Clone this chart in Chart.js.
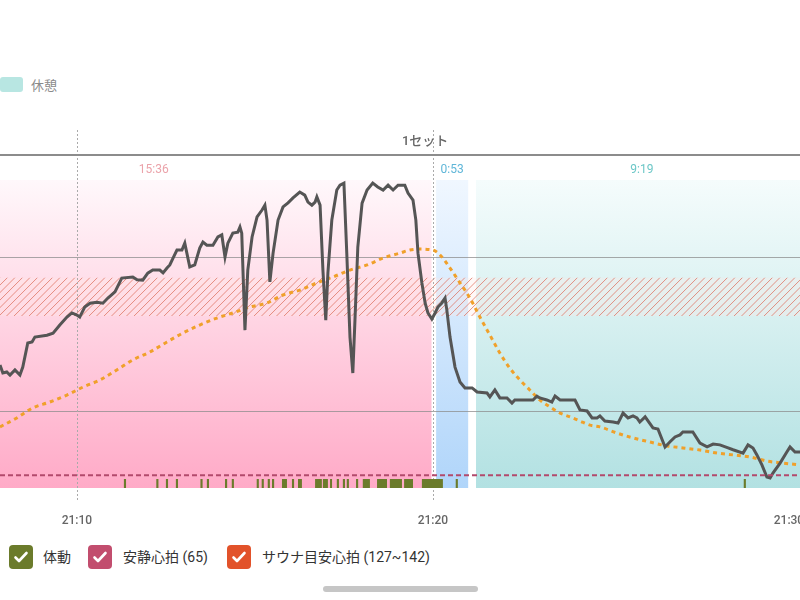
<!DOCTYPE html>
<html>
<head>
<meta charset="utf-8">
<script src="https://cdn.jsdelivr.net/npm/chart.js@4.4.1/dist/chart.umd.min.js"></script>
<style>
  body { margin:0; width:800px; height:600px; overflow:hidden; background:#fff;
         font-family: Roboto, "Noto Sans CJK JP", sans-serif; position:relative; }
  #wrap { position:absolute; left:0; top:0; width:800px; height:528px; }
  .topleg { position:absolute; left:0; top:77px; width:23px; height:15px; border-radius:3px; background:#b8e6e2; }
  .toplegtxt { position:absolute; left:31px; top:75px; font-size:13px; color:#8a8a8a; }
  .chk { position:absolute; top:545px; width:24px; height:24px; border-radius:4px; }
  .chk svg { display:block; }
  .lbl { position:absolute; top:547px; font-size:14px; color:#333; line-height:20px; }
  .scroll { position:absolute; left:323px; top:586px; width:155px; height:6px; border-radius:3px; background:#c6c6c6; }
</style>
</head>
<body>
<div class="topleg"></div><div class="toplegtxt">休憩</div>
<div id="wrap"><canvas id="c"></canvas></div>

<div class="chk" style="left:9px;background:#6b7b2b"><svg width="24" height="24"><path d="M6.5 12.5l3.5 3.5 7.5-8" stroke="#fff" stroke-width="2.6" fill="none" stroke-linecap="round" stroke-linejoin="round"/></svg></div>
<div class="lbl" style="left:43px">体動</div>
<div class="chk" style="left:88px;background:#c24d6e"><svg width="24" height="24"><path d="M6.5 12.5l3.5 3.5 7.5-8" stroke="#fff" stroke-width="2.6" fill="none" stroke-linecap="round" stroke-linejoin="round"/></svg></div>
<div class="lbl" style="left:123px">安静心拍 (65)</div>
<div class="chk" style="left:227px;background:#e2522a"><svg width="24" height="24"><path d="M6.5 12.5l3.5 3.5 7.5-8" stroke="#fff" stroke-width="2.6" fill="none" stroke-linecap="round" stroke-linejoin="round"/></svg></div>
<div class="lbl" style="left:262px">サウナ目安心拍 (127~142)</div>
<div class="scroll"></div>

<script>
// minutes after 21:00
const X_MIN = 7.84, X_MAX = 30.31
const X_TICKS = [10, 20, 30]
const Y_GRID = [90, 150]
const REST_HR = 65
const TARGET_LOW = 127, TARGET_HIGH = 142
const MOVE_LEVEL = 63.5

const PHASE_LABELS = ['15:36', '0:53', '9:19']
const PHASE_START  = [4.36, 20.09, 21.21]
const PHASE_END    = [19.96, 20.99, 30.53]
const SET_LABEL = '1セット'
const SET_LABEL_AT = 19.78

const HR_T = [
  7.84,7.92,8.03,8.12,8.26,8.40,8.48,8.62,8.74,8.82,
  9.16,9.33,9.52,9.72,9.86,10.00,10.08,10.22,10.37,10.56,
  10.73,10.87,11.07,11.26,11.57,11.69,11.85,11.99,12.13,12.33,
  12.42,12.53,12.61,12.70,12.81,12.95,13.03,13.17,13.31,13.45,
  13.54,13.65,13.82,13.96,14.07,14.16,14.24,14.38,14.52,14.58,
  14.63,14.72,14.80,14.92,15.06,15.20,15.28,15.34,15.42,15.51,
  15.65,15.79,15.93,16.07,16.26,16.40,16.49,16.60,16.69,16.74,
  16.83,16.91,16.99,17.05,17.16,17.30,17.39,17.50,17.58,17.67,
  17.75,17.81,17.89,18.01,18.15,18.31,18.45,18.60,18.74,18.88,
  19.02,19.21,19.30,19.44,19.52,19.58,19.69,19.78,19.86,19.97,
  20.06,20.14,20.25,20.34,20.39,20.48,20.62,20.76,20.90,21.10,
  21.24,21.52,21.60,21.74,21.88,22.08,22.22,22.30,22.81,22.92,
  23.00,23.20,23.34,23.43,23.57,23.99,24.13,24.33,24.47,24.61,
  24.69,24.83,25.06,25.20,25.34,25.48,25.62,25.73,25.81,25.96,
  26.18,26.32,26.52,26.66,26.80,26.94,27.02,27.30,27.50,27.70,
  27.87,28.06,28.29,28.43,28.71,28.85,28.99,29.10,29.24,29.38,
  29.47,29.55,29.75,29.94,30.03,30.17,30.31
]
const HR_V = [
  107.9,104.8,105.2,104.0,106.0,104.0,107.1,116.5,116.9,118.8,
  119.5,120.3,123.5,126.6,128.2,127.4,126.6,130.5,132.0,132.4,
  132.0,134.0,136.4,141.8,142.2,141.1,141.0,143.7,144.9,144.9,
  143.8,145.7,146.9,149.6,152.7,152.7,155.4,146.1,146.9,153.5,
  155.8,154.6,154.6,157.8,158.6,150.0,155.4,159.3,159.7,161.7,
  159.3,121.5,144.9,157.8,165.6,168.3,170.2,164.4,140.3,151.5,
  164.4,169.5,171.1,173.0,175.3,174.1,171.4,170.2,171.4,173.4,
  170.2,144.9,125.4,143.8,164.4,176.1,178.0,178.8,151.5,118.8,
  104.8,125.4,153.9,171.0,176.1,178.8,177.3,176.1,178.0,176.1,
  178.0,178.0,174.9,172.2,164.4,151.5,139.9,132.1,128.2,125.8,
  128.2,130.5,132.1,134.0,129.4,118.8,107.1,101.3,99.0,99.0,
  97.4,97.0,95.5,98.2,95.1,95.1,93.1,94.3,94.3,95.8,
  95.1,94.3,93.5,95.8,94.3,94.3,90.4,90.0,87.3,87.3,
  88.1,86.1,85.7,85.3,89.2,87.3,88.1,87.3,85.7,87.7,
  83.4,83.0,76.0,78.0,79.9,80.7,81.8,81.8,77.5,76.0,
  77.1,76.8,75.6,74.9,73.6,76.8,75.6,72.9,69.0,64.3,
  63.9,65.8,69.7,74.0,76.0,74.0,74.0
]

const PRED_T = [
  7.84,8.31,8.76,9.24,9.72,10.17,10.65,11.12,11.57,12.05,
  12.53,12.98,13.45,13.93,14.38,14.86,15.34,15.79,16.26,16.74,
  17.19,17.67,18.15,18.60,19.07,19.35,19.63,20.00,20.20,20.48,
  20.76,21.04,21.32,21.60,21.88,22.16,22.44,22.72,23.00,23.29,
  23.57,23.85,24.13,24.41,24.69,25.17,25.62,26.10,26.57,27.02,
  27.50,27.98,28.43,28.91,29.38,29.83,30.31
]
const PRED_V = [
  83.8,87.3,91.2,93.5,96.2,99.3,102.1,106.0,109.9,113.0,
  116.9,120.4,123.5,126.2,128.2,130.5,132.1,135.2,137.1,139.9,
  142.2,144.9,146.9,149.6,151.5,152.7,153.1,152.7,150.8,145.7,
  139.9,134.0,126.6,119.6,112.6,106.7,102.1,98.2,94.3,91.6,
  89.2,87.7,86.1,84.5,83.8,81.4,79.5,77.9,76.4,75.6,
  74.8,73.6,72.9,72.1,70.5,69.7,69.0
]

// body movement intervals (minutes)
const MOVE_START = [11.32,12.23,12.50,12.78,13.47,13.65,14.16,14.35,15.05,15.19,15.36,15.48,15.76,16.04,16.21,16.69,16.91,17.11,17.30,17.47,17.58,17.84,18.03,18.43,18.79,19.19,19.69,20.64,28.73]
const MOVE_END   = [11.38,12.29,12.56,12.84,13.53,13.71,14.22,14.41,15.11,15.25,15.42,15.54,15.90,16.10,16.32,16.88,17.05,17.16,17.36,17.53,17.64,17.90,18.23,18.71,19.13,19.44,20.28,20.70,28.79]

const PHASE_TOP    = ['rgb(255,248,251)', 'rgb(240,247,255)', 'rgb(245,252,252)']
const PHASE_BOTTOM = ['rgb(255,170,199)', 'rgb(176,213,250)', 'rgb(178,225,226)']
const PHASE_TEXT   = ['#eba3aa', '#5fb6d8', '#6cc7c7']

const zip = (t, v) => t.map((x, i) => ({ x, y: v[i] }))

const decor = {
  id: 'decor',
  beforeDraw(chart) {
    const { ctx, chartArea: a, scales: { x, y } } = chart
    ctx.save()
    PHASE_START.forEach((s, i) => {
      const x1 = Math.max(x.getPixelForValue(s), a.left)
      const x2 = Math.min(x.getPixelForValue(PHASE_END[i]), a.right)
      const g = ctx.createLinearGradient(0, a.top, 0, a.bottom)
      g.addColorStop(0, PHASE_TOP[i]); g.addColorStop(1, PHASE_BOTTOM[i])
      ctx.fillStyle = g
      ctx.fillRect(x1, a.top, x2 - x1, a.bottom - a.top)
    })
    const yt = y.getPixelForValue(TARGET_HIGH), yb = y.getPixelForValue(TARGET_LOW)
    ctx.beginPath(); ctx.rect(a.left, yt, a.right - a.left, yb - yt); ctx.clip()
    ctx.fillStyle = 'rgba(255,232,228,0.3)'
    ctx.fillRect(a.left, yt, a.right - a.left, yb - yt)
    ctx.strokeStyle = 'rgba(220,105,85,0.7)'; ctx.lineWidth = 1
    const h = yb - yt
    ctx.beginPath()
    for (let px = a.left - h; px < a.right; px += 7.5) { ctx.moveTo(px, yb); ctx.lineTo(px + h, yt) }
    ctx.stroke()
    ctx.restore()
  },
  beforeDatasetsDraw(chart) {
    const { ctx, chartArea: a, scales: { x, y } } = chart
    ctx.save()
    ctx.strokeStyle = '#aaa'; ctx.lineWidth = 1; ctx.setLineDash([2, 2])
    X_TICKS.forEach(t => {
      const px = Math.round(x.getPixelForValue(t)) + 0.5
      if (px > a.right - 15) return
      ctx.beginPath(); ctx.moveTo(px, 130); ctx.lineTo(px, a.bottom + 12); ctx.stroke()
    })
    ctx.setLineDash([])
    ctx.fillStyle = '#6b7b2b'
    const top = y.getPixelForValue(MOVE_LEVEL)
    MOVE_START.forEach((s, i) => {
      const x1 = x.getPixelForValue(s), x2 = x.getPixelForValue(MOVE_END[i])
      ctx.fillRect(x1, top, Math.max(2, x2 - x1), a.bottom - top)
    })
    ctx.restore()
  },
  afterDraw(chart) {
    const { ctx, chartArea: a, scales: { x } } = chart
    ctx.save()
    ctx.strokeStyle = '#8c8c8c'; ctx.lineWidth = 2
    ctx.beginPath(); ctx.moveTo(0, a.top - 25); ctx.lineTo(chart.width, a.top - 25); ctx.stroke()
    ctx.textAlign = 'center'; ctx.textBaseline = 'middle'
    ctx.font = '500 13px Roboto, "Noto Sans CJK JP"'
    ctx.fillStyle = '#666'
    ctx.fillText(SET_LABEL, x.getPixelForValue(SET_LABEL_AT), a.top - 38)
    ctx.font = '12px Roboto, "Noto Sans CJK JP"'
    PHASE_LABELS.forEach((l, i) => {
      ctx.fillStyle = PHASE_TEXT[i]
      ctx.fillText(l, x.getPixelForValue((PHASE_START[i] + PHASE_END[i]) / 2), a.top - 10)
    })
    ctx.restore()
  }
}

new Chart(document.getElementById('c'), {
  type: 'line',
  data: { datasets: [
    { label: '安静心拍', data: [{ x: X_MIN, y: REST_HR }, { x: X_MAX, y: REST_HR }],
      borderColor: '#b24a6c', borderWidth: 2, borderDash: [5, 3], pointRadius: 0 },
    { label: '心拍', data: zip(HR_T, HR_V),
      borderColor: '#555', borderWidth: 3, pointRadius: 0, tension: 0 },
    { label: '予測', data: zip(PRED_T, PRED_V),
      borderColor: '#f0a02a', borderWidth: 3, borderDash: [4, 4], pointRadius: 0,
      cubicInterpolationMode: 'monotone' },
  ]},
  options: {
    responsive: true, maintainAspectRatio: false, animation: false,
    layout: { padding: { top: 180, left: 0, right: 0, bottom: 0 } },
    plugins: { legend: { display: false }, tooltip: { enabled: false } },
    scales: {
      x: { type: 'linear', min: X_MIN, max: X_MAX,
           afterBuildTicks: s => { s.ticks = X_TICKS.map(v => ({ value: v })) },
           afterFit: s => { s.height = 40; s.paddingLeft = 0; s.paddingRight = 0 },
           grid: { display: false }, border: { display: false },
           ticks: { color: '#666', padding: 18, maxRotation: 0, autoSkip: false,
                    font: { size: 12, family: 'Roboto', weight: '500' }, callback: v => '21:' + v } },
      y: { min: 60, max: 180,
           afterBuildTicks: s => { s.ticks = Y_GRID.map(v => ({ value: v })) },
           ticks: { display: false }, border: { display: false },
           grid: { color: 'rgba(140,140,140,0.75)', lineWidth: 1, drawTicks: false } }
    }
  },
  plugins: [decor]
})
</script>
</body>
</html>
